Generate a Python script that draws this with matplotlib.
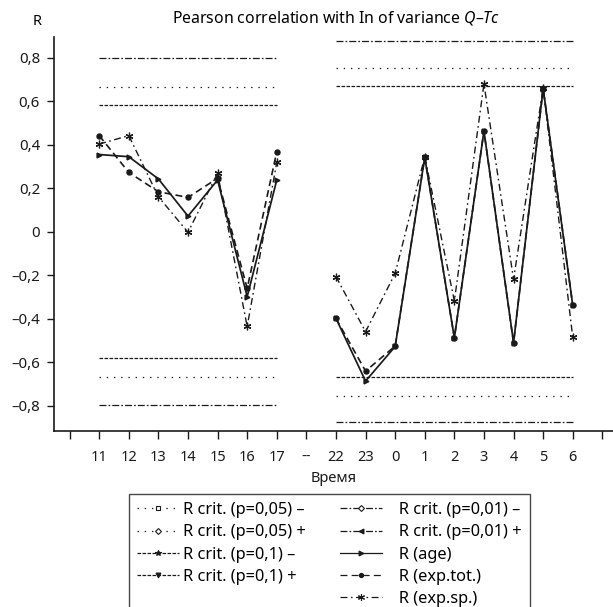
import numpy as np
import matplotlib
matplotlib.use("Agg")
import matplotlib.pyplot as plt
from matplotlib.lines import Line2D
from matplotlib.ticker import FixedLocator, FuncFormatter

plt.rcParams['font.family'] = ['Noto Sans', 'DejaVu Sans']
plt.rcParams['mathtext.fontset'] = 'custom'
plt.rcParams['mathtext.rm'] = 'Noto Sans'
plt.rcParams['mathtext.it'] = 'Noto Sans:italic'
plt.rcParams['lines.scale_dashes'] = False

# ---- data ----
categories = ['11', '12', '13', '14', '15', '16', '17', '--', '22', '23',
              '0', '1', '2', '3', '4', '5', '6']
nan = np.nan
r_age = [0.355, 0.345, 0.243, 0.072, 0.238, -0.298, 0.238, nan,
         -0.398, -0.686, -0.527, 0.342, -0.487, 0.463, -0.510, 0.658, -0.338]
r_exp_tot = [0.442, 0.273, 0.184, 0.158, 0.246, -0.260, 0.368, nan,
             -0.398, -0.640, -0.525, 0.342, -0.487, 0.463, -0.510, 0.658, -0.338]
r_exp_sp = [0.403, 0.442, 0.161, -0.002, 0.269, -0.435, 0.319, nan,
            -0.206, -0.459, -0.191, 0.345, -0.318, 0.679, -0.218, 0.662, -0.485]
# critical values per segment (day: 11-17, night: 22-6)
seg_day = ('11', '17')
seg_night = ('22', '6')
crit_day = {'0,1': 0.582, '0,05': 0.666, '0,01': 0.798}
crit_night = {'0,1': 0.669, '0,05': 0.754, '0,01': 0.875}
yticks = [-0.8, -0.6, -0.4, -0.2, 0, 0.2, 0.4, 0.6, 0.8]

x = np.arange(1, len(categories) + 1)
pos = {c: i + 1 for i, c in enumerate(categories)}

fig = plt.figure(figsize=(6.13, 6.07), dpi=100)
ax = fig.add_axes([54 / 613, 1 - 430.5 / 607, (613 - 54) / 613, (430.5 - 37) / 607])
ax.set_xlim(-0.527, 18.36)
ax.set_ylim(-0.913, 0.895)

col = '#1a1a1a'
styles = {
    '0,05': (0, (1, 4.2)),
    '0,1': (0, (2.6, 1.0)),
    '0,01': (0, (5, 1.5, 1.2, 1.5)),
}
for crit, seg in ((crit_day, seg_day), (crit_night, seg_night)):
    for p, v in crit.items():
        for s in (1, -1):
            ax.hlines(s * v, pos[seg[0]], pos[seg[1]], colors=col,
                      linestyles=[styles[p]], linewidth=0.9)

ax.plot(x, r_age, color=col, lw=1.25, ls='-', marker='>', ms=3.5)
ax.plot(x, r_exp_tot, color=col, lw=1.2, ls=(0, (5, 3)), marker='o', ms=3.6)
ax.plot(x, r_exp_sp, color=col, lw=1.0, ls=(0, (5, 2.5, 1.2, 2.5)),
        marker=(6, 2, 0), ms=5.5, mew=0.9)

# axes styling
for s in ('top', 'right'):
    ax.spines[s].set_visible(False)
for s in ('left', 'bottom'):
    ax.spines[s].set_linewidth(1.2)
    ax.spines[s].set_color(col)

ax.xaxis.set_major_locator(FixedLocator(np.arange(0, len(categories) + 2)))
ax.set_xticklabels([''] + categories + [''])
ax.set_yticks(yticks)
ax.yaxis.set_major_formatter(FuncFormatter(
    lambda v, _: '0' if abs(v) < 1e-9 else ('%.1f' % v).replace('.', ',').replace('-', '–')))
ax.tick_params(axis='x', direction='out', length=6, width=1, pad=8, labelsize=10.5, colors=col)
ax.tick_params(axis='y', direction='out', length=5, width=1, pad=5, labelsize=10.8, colors=col)
ax.set_xlabel('Время', fontsize=10.5, labelpad=4, color=col)

ax.text(-0.03, 1.02, 'R', transform=ax.transAxes, ha='center', va='bottom', fontsize=10.5)
fig.text(0.548, 0.97, r'Pearson correlation with In of variance $\mathit{Q–Tc}$',
         ha='center', va='center', fontsize=11.4)

# legend
def h(ls, m, mfc=col, ms=3.5):
    return Line2D([], [], color=col, ls=ls, lw=0.9, marker=m, ms=ms,
                  mfc=mfc, mec=col, mew=0.8)

blank = Line2D([], [], ls='none', marker=None)
handles = [h(styles['0,05'], 's', 'white', 3),
           h(styles['0,05'], 'D', 'white', 3),
           h(styles['0,1'], '*', col, 4),
           h(styles['0,1'], 'v', col, 3.5),
           blank,
           h(styles['0,01'], 'D', 'white', 3),
           h(styles['0,01'], '<', col, 3.5),
           h('-', '>', col, 3.5),
           h((0, (5, 3)), 'o', col, 3),
           h((0, (5, 2.5, 1.2, 2.5)), (6, 2, 0), col, 5)]
pad = '   '
labels = ['R crit. (p=0,05) –', 'R crit. (p=0,05) +', 'R crit. (p=0,1) –',
          'R crit. (p=0,1) +', '',
          pad + 'R crit. (p=0,01) –', pad + 'R crit. (p=0,01) +', pad + 'R (age)',
          pad + 'R (exp.tot.)', pad + 'R (exp.sp.)']
leg = fig.legend(handles, labels, ncol=2, loc='upper left',
                 bbox_to_anchor=(129 / 613, 1 - 494 / 607),
                 fontsize=11.8, frameon=True, fancybox=False, handlelength=2.55,
                 handletextpad=0.25, columnspacing=2.1, labelspacing=0.38,
                 borderpad=0.5, borderaxespad=0)
leg.get_frame().set_edgecolor(col)
leg.get_frame().set_linewidth(1.0)

fig.savefig('out.png', dpi=100)
